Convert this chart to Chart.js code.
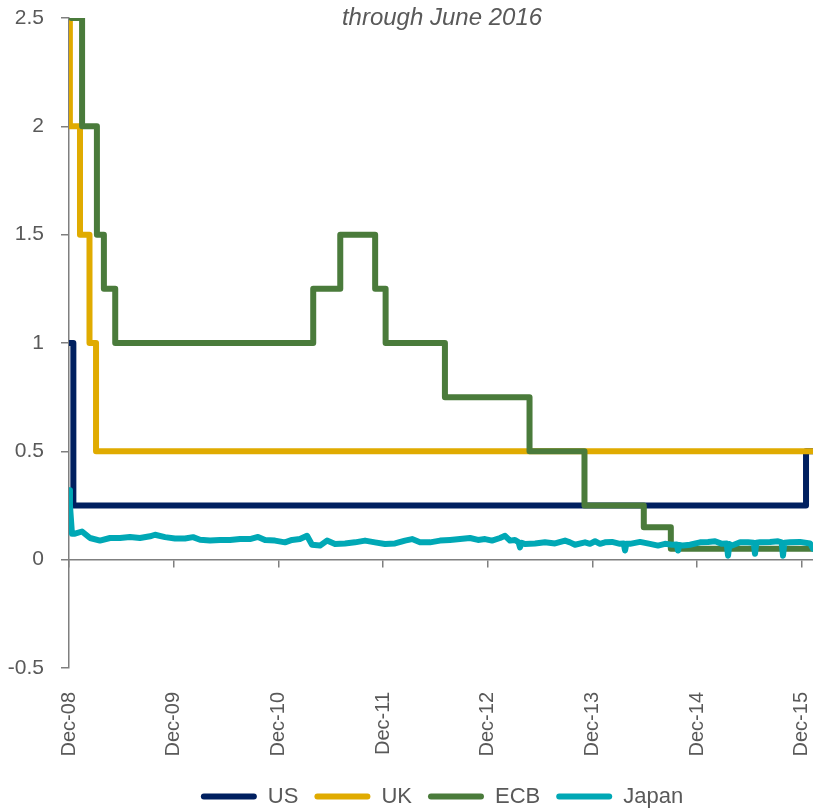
<!DOCTYPE html>
<html>
<head>
<meta charset="utf-8">
<script src="https://cdn.jsdelivr.net/npm/chart.js@4.4.1/dist/chart.umd.min.js"></script>
<style>
html, body { margin: 0; padding: 0; background: #fff; overflow: hidden; }
#wrap { width: 884px; height: 809px; }
</style>
</head>
<body>
<div id="wrap"><canvas id="ratesChart" width="884" height="809"></canvas></div>
<script>
"use strict";

// x values are months since the start of Dec 2008
var yearTicks = [0, 12, 24, 36, 48, 60, 72, 84];
var yearLabels = ['Dec-08', 'Dec-09', 'Dec-10', 'Dec-11', 'Dec-12', 'Dec-13', 'Dec-14', 'Dec-15'];

// US fed funds (upper), step series
var usMonths = [0, 0.5, 84.5, 93.5];
var usRates = [1.0, 0.25, 0.5, 0.5];

// UK bank rate
var ukMonths = [0, 0.1, 1.26, 2.35, 3.1, 93.5];
var ukRates = [3.0, 2.0, 1.5, 1.0, 0.5, 0.5];

// ECB refi rate
var ecbMonths = [0, 0.3, 1.5, 3.2, 4.0, 5.3, 28.0, 31.1, 35.1, 36.3, 43.1, 52.8, 59.1, 65.9, 69.0, 87.5, 93.5];
var ecbRates = [3.25, 2.5, 2.0, 1.5, 1.25, 1.0, 1.25, 1.5, 1.25, 1.0, 0.75, 0.5, 0.25, 0.15, 0.05, 0.0, 0.0];

// Japan overnight call rate
var japanMonths = [0, 0.11, 0.34, 0.69, 1.49, 2.41, 3.55, 4.70, 5.85, 6.99, 8.14, 9.29, 9.86, 11.01, 12.15,
	13.30, 14.22, 15.02, 16.17, 17.31, 18.46, 19.61, 20.75, 21.67, 22.47, 23.62, 24.76, 25.57, 26.48, 27.29,
	27.86, 28.78, 29.58, 30.50, 31.64, 32.79, 33.94, 35.08, 36.23, 37.38, 38.52, 39.33, 40.24, 41.39, 42.54,
	43.68, 44.83, 45.98, 46.89, 47.70, 48.50, 49.42, 49.99, 50.56, 51.13, 51.55, 51.71, 51.90, 52.28, 53.43,
	54.57, 55.72, 56.87, 57.44, 58.01, 59.16, 59.73, 60.31, 60.88, 61.45, 62.26, 63.17, 63.60, 63.75, 63.90,
	64.32, 65.47, 66.61, 67.53, 68.33, 69.14, 69.68, 69.83, 69.98, 70.40, 71.20, 72.35, 73.26, 74.07, 74.87,
	75.40, 75.56, 75.72, 76.02, 76.94, 77.85, 78.50, 78.65, 78.80, 79.22, 80.37, 81.29, 81.70, 81.86, 82.02,
	82.66, 83.81, 84.96, 85.3, 86.5, 88.0, 89.5, 91];
var japanRates = [0.32, 0.25, 0.12, 0.12, 0.13, 0.10, 0.088, 0.10, 0.10, 0.105, 0.10, 0.108, 0.115, 0.104, 0.098,
	0.098, 0.104, 0.092, 0.088, 0.091, 0.091, 0.095, 0.095, 0.105, 0.091, 0.088, 0.08, 0.091, 0.095, 0.11,
	0.069, 0.065, 0.088, 0.072, 0.075, 0.08, 0.088, 0.08, 0.072, 0.075, 0.088, 0.095, 0.08, 0.08, 0.088,
	0.091, 0.095, 0.10, 0.091, 0.095, 0.088, 0.10, 0.11, 0.088, 0.091, 0.08, 0.057, 0.078, 0.072, 0.075,
	0.08, 0.075, 0.088, 0.08, 0.069, 0.08, 0.073, 0.085, 0.073, 0.08, 0.082, 0.073, 0.075, 0.042, 0.074,
	0.073, 0.082, 0.073, 0.065, 0.073, 0.069, 0.07, 0.042, 0.068, 0.065, 0.069, 0.08, 0.082, 0.085, 0.073,
	0.075, 0.018, 0.072, 0.065, 0.08, 0.08, 0.078, 0.027, 0.078, 0.08, 0.082, 0.085, 0.08, 0.018, 0.078,
	0.08, 0.082, 0.075, 0.05, 0.04, 0.0, -0.04, -0.05];

var fontFamily = "'Liberation Sans', Arial, sans-serif";
var textColor = '#595959';
var axisColor = '#7f7f7f';

function toPoints(months, rates) {
	return months.map(function (m, i) {
		return { x: m, y: rates[i] };
	});
}

function setYearTicks(scale) {
	scale.ticks = yearTicks.map(function (v) {
		return { value: v };
	});
}

function makeLine(label, months, rates, color, order, stepped) {
	return {
		label: label,
		data: toPoints(months, rates),
		borderColor: color,
		backgroundColor: color,
		borderWidth: 6,
		pointRadius: 0,
		tension: 0,
		stepped: stepped ? 'before' : false,
		borderJoinStyle: 'round',
		borderCapStyle: 'round',
		order: order
	};
}

const context = document.getElementById('ratesChart');
const myChart = new Chart(context, {
	type: 'line',
	data: {
		datasets: [
			makeLine('US', usMonths, usRates, '#002060', 3, true),
			makeLine('UK', ukMonths, ukRates, '#e0ab00', 2, true),
			makeLine('ECB', ecbMonths, ecbRates, '#4a7b3b', 1, true),
			makeLine('Japan', japanMonths, japanRates, '#00a8b5', 0, false)
		]
	},
	options: {
		responsive: false,
		animation: false,
		devicePixelRatio: 1,
		layout: {
			padding: { top: 18, right: 0, bottom: -8.5, left: 0 }
		},
		plugins: {
			tooltip: { enabled: false },
			title: {
				display: true,
				text: 'through June 2016',
				color: textColor,
				font: { family: fontFamily, size: 24, style: 'italic', weight: 'normal' },
				padding: { top: -14, bottom: -14.8 }
			},
			legend: {
				position: 'bottom',
				labels: {
					color: textColor,
					font: { family: fontFamily, size: 22 },
					boxWidth: 56,
					boxHeight: 6,
					padding: 16,
					useBorderRadius: true,
					borderRadius: 3,
					generateLabels: function (chart) {
						var items = Chart.defaults.plugins.legend.labels.generateLabels(chart);
						items.forEach(function (item) {
							item.lineWidth = 0;
						});
						items.sort(function (a, b) {
							return a.datasetIndex - b.datasetIndex;
						});
						return items;
					}
				}
			}
		},
		scales: {
			x: {
				type: 'linear',
				position: 'bottom',
				min: 0,
				max: 93.44,
				afterBuildTicks: setYearTicks,
				afterFit: function (scale) {
					scale.height = 101.5;
				},
				grid: { display: false },
				border: { display: false },
				ticks: {
					autoSkip: false,
					minRotation: 90,
					maxRotation: 90,
					padding: 16,
					color: textColor,
					font: { family: fontFamily, size: 20 },
					callback: function (value) {
						var i = yearTicks.indexOf(value);
						return i >= 0 ? yearLabels[i] : '';
					}
				}
			},
			xZero: {
				type: 'linear',
				axis: 'x',
				position: { y: 0 },
				min: 0,
				max: 93.44,
				afterBuildTicks: setYearTicks,
				grid: {
					drawOnChartArea: false,
					drawTicks: true,
					tickLength: 7,
					color: axisColor,
					lineWidth: 1.5
				},
				border: { display: true, color: axisColor, width: 1.5 },
				ticks: { display: false }
			},
			y: {
				min: -0.5,
				max: 2.5,
				afterFit: function (scale) {
					scale.width = 69;
					// the label padding should not push the plot area down
					scale.paddingTop = 0;
					scale.paddingBottom = 0;
				},
				grid: {
					drawOnChartArea: false,
					drawTicks: true,
					tickLength: 8,
					color: axisColor,
					lineWidth: 1.5
				},
				border: { display: true, color: axisColor, width: 1.5 },
				ticks: {
					stepSize: 0.5,
					padding: 17,
					color: textColor,
					font: { family: fontFamily, size: 21 },
					callback: function (value) {
						return String(value);
					}
				}
			}
		}
	}
});
</script>
</body>
</html>
